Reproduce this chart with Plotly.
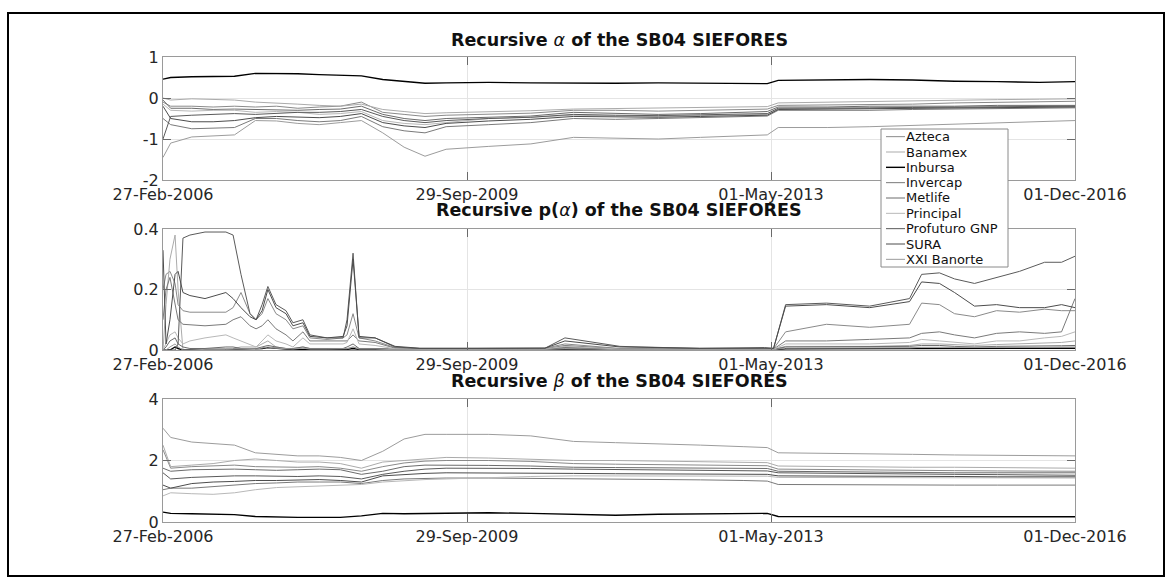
import plotly.graph_objects as go

# ---------------- data ----------------
FUNDS = ["Azteca", "Banamex", "Inbursa", "Invercap", "Metlife", "Principal",
         "Profuturo GNP", "SURA", "XXI Banorte"]
COLORS = ["#8a8a8a", "#ababab", "#000000", "#7a7a7a", "#6c6c6c", "#b8b8b8",
          "#5a5a5a", "#4c4c4c", "#9c9c9c"]

X_TICKVALS = ["2006-02-27", "2009-09-29", "2013-05-01", "2016-12-01"]
X_TICKTEXT = ["27-Feb-2006", "29-Sep-2009", "01-May-2013", "01-Dec-2016"]

DATES_AB = ["2006-02-27", "2006-04-01", "2006-07-01", "2006-10-01", "2007-01-01",
            "2007-04-01", "2007-07-01", "2007-10-01", "2008-01-01", "2008-04-01",
            "2008-07-01", "2008-10-01", "2009-01-01", "2009-04-01", "2009-07-01",
            "2010-01-01", "2010-07-01", "2011-01-01", "2011-07-01", "2012-01-01",
            "2012-07-01", "2013-01-01", "2013-04-15", "2013-06-01", "2014-01-01",
            "2014-07-01", "2015-01-01", "2015-07-01", "2016-01-01", "2016-07-01",
            "2016-12-01"]

alpha_azteca = [-0.10, -0.20, -0.20, -0.22, -0.20, -0.22, -0.20, -0.25, -0.22, -0.20,
                -0.10, -0.35, -0.40, -0.45, -0.42, -0.40, -0.37, -0.30, -0.30, -0.32,
                -0.30, -0.28, -0.27, -0.18, -0.17, -0.16, -0.15, -0.12, -0.10, -0.09, -0.08]
alpha_banamex = [0.00, -0.05, -0.02, -0.03, -0.05, -0.10, -0.12, -0.15, -0.18, -0.20,
                 -0.15, -0.28, -0.33, -0.38, -0.36, -0.34, -0.31, -0.27, -0.26, -0.25,
                 -0.23, -0.22, -0.21, -0.12, -0.10, -0.08, -0.07, -0.05, -0.04, -0.03, -0.02]
alpha_inbursa = [0.46, 0.50, 0.52, 0.52, 0.53, 0.60, 0.60, 0.59, 0.57, 0.56,
                 0.54, 0.45, 0.40, 0.36, 0.37, 0.38, 0.37, 0.36, 0.36, 0.37,
                 0.36, 0.36, 0.35, 0.43, 0.45, 0.45, 0.44, 0.41, 0.40, 0.38, 0.40]
alpha_invercap = [-0.50, -0.65, -0.75, -0.74, -0.72, -0.50, -0.50, -0.55, -0.58, -0.55,
                  -0.45, -0.70, -0.80, -0.85, -0.70, -0.65, -0.60, -0.50, -0.52, -0.50,
                  -0.48, -0.45, -0.44, -0.30, -0.30, -0.30, -0.28, -0.27, -0.26, -0.25, -0.24]
alpha_metlife = [-0.05, -0.25, -0.25, -0.28, -0.27, -0.28, -0.30, -0.30, -0.28, -0.27,
                 -0.20, -0.40, -0.50, -0.55, -0.50, -0.47, -0.44, -0.35, -0.37, -0.40,
                 -0.38, -0.35, -0.33, -0.22, -0.22, -0.20, -0.20, -0.20, -0.18, -0.18, -0.18]
alpha_principal = [-0.15, -0.30, -0.32, -0.30, -0.30, -0.35, -0.33, -0.35, -0.40, -0.38,
                   -0.33, -0.55, -0.62, -0.65, -0.60, -0.50, -0.47, -0.42, -0.44, -0.45,
                   -0.43, -0.41, -0.40, -0.27, -0.26, -0.25, -0.24, -0.23, -0.22, -0.21, -0.21]
alpha_profuturo = [-1.00, -0.45, -0.42, -0.40, -0.38, -0.40, -0.37, -0.35, -0.35, -0.33,
                   -0.28, -0.45, -0.55, -0.60, -0.55, -0.50, -0.47, -0.40, -0.42, -0.43,
                   -0.41, -0.40, -0.38, -0.25, -0.25, -0.24, -0.23, -0.22, -0.22, -0.21, -0.20]
alpha_sura = [-0.20, -0.50, -0.58, -0.58, -0.55, -0.48, -0.45, -0.47, -0.48, -0.45,
              -0.38, -0.60, -0.68, -0.72, -0.62, -0.56, -0.52, -0.45, -0.46, -0.47,
              -0.45, -0.43, -0.42, -0.28, -0.27, -0.26, -0.25, -0.24, -0.23, -0.22, -0.22]
alpha_xxi = [-1.45, -1.10, -0.95, -0.93, -0.90, -0.55, -0.56, -0.62, -0.65, -0.60,
             -0.55, -0.85, -1.20, -1.42, -1.25, -1.18, -1.12, -0.96, -0.98, -1.00,
             -0.96, -0.93, -0.90, -0.72, -0.72, -0.70, -0.67, -0.63, -0.60, -0.57, -0.55]

beta_azteca = [2.35, 1.75, 1.80, 1.82, 1.85, 1.80, 1.78, 1.78, 1.80, 1.75,
               1.65, 1.80, 1.92, 1.98, 2.00, 2.00, 1.97, 1.90, 1.88, 1.87,
               1.86, 1.85, 1.83, 1.72, 1.70, 1.70, 1.68, 1.67, 1.66, 1.66, 1.65]
beta_banamex = [2.50, 1.80, 1.85, 1.90, 2.00, 2.05, 2.00, 1.95, 1.95, 1.90,
                1.75, 1.95, 2.00, 2.05, 2.10, 2.08, 2.05, 2.00, 2.00, 1.98,
                1.97, 1.95, 1.93, 1.82, 1.80, 1.80, 1.78, 1.78, 1.77, 1.76, 1.75]
beta_inbursa = [0.32, 0.28, 0.27, 0.26, 0.24, 0.18, 0.16, 0.15, 0.15, 0.15,
                0.20, 0.28, 0.27, 0.28, 0.30, 0.30, 0.28, 0.25, 0.22, 0.25,
                0.27, 0.28, 0.28, 0.18, 0.17, 0.17, 0.17, 0.17, 0.17, 0.17, 0.17]
beta_invercap = [1.05, 1.10, 1.10, 1.15, 1.20, 1.25, 1.27, 1.30, 1.30, 1.30,
                 1.25, 1.35, 1.40, 1.42, 1.43, 1.43, 1.42, 1.42, 1.40, 1.38,
                 1.37, 1.35, 1.33, 1.22, 1.21, 1.20, 1.20, 1.20, 1.20, 1.20, 1.20]
beta_metlife = [1.75, 1.65, 1.70, 1.72, 1.72, 1.70, 1.68, 1.70, 1.72, 1.70,
                1.55, 1.65, 1.80, 1.85, 1.85, 1.84, 1.82, 1.78, 1.77, 1.76,
                1.76, 1.75, 1.74, 1.65, 1.63, 1.62, 1.60, 1.60, 1.60, 1.60, 1.60]
beta_principal = [0.85, 0.95, 0.92, 0.90, 0.95, 1.05, 1.12, 1.15, 1.18, 1.20,
                  1.22, 1.30, 1.35, 1.38, 1.40, 1.45, 1.48, 1.50, 1.50, 1.50,
                  1.50, 1.50, 1.49, 1.45, 1.45, 1.45, 1.44, 1.44, 1.43, 1.43, 1.43]
beta_profuturo = [1.60, 1.40, 1.45, 1.48, 1.50, 1.50, 1.48, 1.48, 1.50, 1.48,
                  1.40, 1.55, 1.65, 1.72, 1.75, 1.75, 1.74, 1.72, 1.71, 1.70,
                  1.70, 1.68, 1.66, 1.60, 1.58, 1.57, 1.56, 1.55, 1.54, 1.53, 1.52]
beta_sura = [1.20, 1.10, 1.25, 1.30, 1.32, 1.35, 1.35, 1.37, 1.38, 1.35,
             1.30, 1.50, 1.55, 1.58, 1.60, 1.60, 1.60, 1.58, 1.57, 1.57,
             1.56, 1.55, 1.55, 1.50, 1.50, 1.49, 1.48, 1.48, 1.47, 1.47, 1.47]
beta_xxi = [3.05, 2.75, 2.60, 2.55, 2.50, 2.25, 2.20, 2.15, 2.15, 2.10,
            2.00, 2.30, 2.70, 2.85, 2.85, 2.85, 2.80, 2.62, 2.58, 2.55,
            2.50, 2.45, 2.42, 2.25, 2.24, 2.23, 2.20, 2.18, 2.17, 2.16, 2.15]

DATES_P = ["2006-02-27", "2006-03-12", "2006-03-29", "2006-04-20", "2006-05-03",
           "2006-05-24", "2006-06-23", "2006-08-27", "2006-11-25", "2006-12-26",
           "2007-01-29", "2007-03-09", "2007-04-04", "2007-04-30", "2007-05-25",
           "2007-06-29", "2007-08-11", "2007-09-10", "2007-10-23", "2007-11-22",
           "2008-02-04", "2008-04-13", "2008-04-30", "2008-05-26", "2008-06-21",
           "2008-08-29", "2008-11-23", "2009-03-10", "2009-09-29", "2010-08-31",
           "2010-11-25", "2011-07-20", "2012-06-28", "2013-04-03", "2013-05-12",
           "2013-07-03", "2013-12-26", "2014-06-30", "2014-12-19", "2015-02-09",
           "2015-04-27", "2015-07-01", "2015-09-25", "2015-12-29", "2016-04-06",
           "2016-07-23", "2016-10-04", "2016-12-01"]

p_azteca = [0.20, 0.25, 0.26, 0.22, 0.15, 0.13, 0.125, 0.125, 0.125, 0.14,
            0.19, 0.12, 0.10, 0.12, 0.17, 0.12, 0.10, 0.07, 0.08, 0.04,
            0.035, 0.04, 0.05, 0.12, 0.04, 0.03, 0.008, 0.004, 0.004, 0.006,
            0.02, 0.005, 0.004, 0.005, 0.004, 0.06, 0.085, 0.075, 0.085, 0.155,
            0.15, 0.12, 0.11, 0.13, 0.125, 0.135, 0.13, 0.13]
p_banamex = [0.00, 0.15, 0.30, 0.38, 0.20, 0.00, 0.00, 0.005, 0.005, 0.005,
             0.01, 0.01, 0.01, 0.02, 0.03, 0.01, 0.005, 0.005, 0.01, 0.005,
             0.005, 0.005, 0.005, 0.01, 0.005, 0.005, 0.002, 0.002, 0.002, 0.003,
             0.01, 0.003, 0.002, 0.003, 0.002, 0.012, 0.012, 0.012, 0.015, 0.02,
             0.02, 0.018, 0.015, 0.018, 0.02, 0.022, 0.025, 0.03]
p_inbursa = [0.00, 0.00, 0.00, 0.01, 0.005, 0.00, 0.00, 0.00, 0.002, 0.002,
             0.003, 0.003, 0.003, 0.005, 0.008, 0.005, 0.003, 0.002, 0.003, 0.002,
             0.002, 0.002, 0.002, 0.005, 0.002, 0.002, 0.001, 0.001, 0.001, 0.002,
             0.004, 0.001, 0.001, 0.001, 0.001, 0.004, 0.004, 0.004, 0.005, 0.006,
             0.006, 0.005, 0.004, 0.005, 0.005, 0.005, 0.006, 0.006]
p_invercap = [0.10, 0.20, 0.24, 0.15, 0.10, 0.085, 0.083, 0.08, 0.085, 0.10,
              0.11, 0.08, 0.07, 0.08, 0.10, 0.07, 0.05, 0.03, 0.06, 0.03,
              0.03, 0.03, 0.03, 0.05, 0.03, 0.025, 0.006, 0.003, 0.003, 0.004,
              0.015, 0.004, 0.003, 0.004, 0.003, 0.03, 0.03, 0.035, 0.04, 0.055,
              0.06, 0.05, 0.04, 0.055, 0.06, 0.055, 0.06, 0.17]
p_metlife = [0.00, 0.01, 0.03, 0.04, 0.02, 0.01, 0.005, 0.005, 0.01, 0.01,
             0.005, 0.005, 0.005, 0.01, 0.015, 0.01, 0.005, 0.005, 0.01, 0.005,
             0.005, 0.005, 0.01, 0.02, 0.005, 0.005, 0.002, 0.002, 0.002, 0.003,
             0.008, 0.003, 0.002, 0.002, 0.002, 0.01, 0.01, 0.01, 0.012, 0.015,
             0.015, 0.012, 0.01, 0.012, 0.012, 0.012, 0.014, 0.015]
p_principal = [0.00, 0.02, 0.05, 0.06, 0.04, 0.02, 0.03, 0.04, 0.05, 0.04,
               0.03, 0.02, 0.01, 0.03, 0.05, 0.03, 0.02, 0.01, 0.04, 0.02,
               0.02, 0.02, 0.025, 0.07, 0.02, 0.015, 0.004, 0.002, 0.002, 0.003,
               0.012, 0.003, 0.002, 0.002, 0.002, 0.02, 0.02, 0.02, 0.025, 0.035,
               0.03, 0.025, 0.02, 0.03, 0.03, 0.04, 0.045, 0.06]
p_profuturo = [0.00, 0.00, 0.00, 0.00, 0.02, 0.37, 0.38, 0.39, 0.39, 0.38,
               0.25, 0.12, 0.10, 0.15, 0.21, 0.15, 0.13, 0.09, 0.10, 0.05,
               0.04, 0.04, 0.10, 0.32, 0.04, 0.04, 0.01, 0.005, 0.005, 0.006,
               0.04, 0.012, 0.005, 0.008, 0.005, 0.15, 0.155, 0.145, 0.17, 0.25,
               0.255, 0.235, 0.22, 0.24, 0.26, 0.29, 0.29, 0.31]
p_sura = [0.33, 0.02, 0.10, 0.25, 0.26, 0.19, 0.18, 0.17, 0.19, 0.17,
          0.14, 0.11, 0.10, 0.13, 0.20, 0.14, 0.12, 0.08, 0.09, 0.045,
          0.04, 0.045, 0.08, 0.30, 0.045, 0.04, 0.012, 0.006, 0.006, 0.006,
          0.03, 0.01, 0.006, 0.008, 0.006, 0.145, 0.15, 0.14, 0.16, 0.225,
          0.22, 0.19, 0.145, 0.15, 0.14, 0.14, 0.15, 0.14]
p_xxi = [0.00, 0.00, 0.01, 0.02, 0.01, 0.00, 0.00, 0.002, 0.002, 0.003,
         0.005, 0.004, 0.003, 0.006, 0.01, 0.006, 0.004, 0.003, 0.006, 0.003,
         0.003, 0.003, 0.004, 0.01, 0.003, 0.003, 0.001, 0.001, 0.001, 0.002,
         0.005, 0.001, 0.001, 0.001, 0.001, 0.006, 0.006, 0.006, 0.007, 0.009,
         0.009, 0.008, 0.007, 0.008, 0.008, 0.009, 0.01, 0.01]

ALPHA = [alpha_azteca, alpha_banamex, alpha_inbursa, alpha_invercap, alpha_metlife,
         alpha_principal, alpha_profuturo, alpha_sura, alpha_xxi]
PALPHA = [p_azteca, p_banamex, p_inbursa, p_invercap, p_metlife,
          p_principal, p_profuturo, p_sura, p_xxi]
BETA = [beta_azteca, beta_banamex, beta_inbursa, beta_invercap, beta_metlife,
        beta_principal, beta_profuturo, beta_sura, beta_xxi]

TITLES = ["<b>Recursive </b><i>\u03b1</i><b> of the SB04 SIEFORES</b>",
          "<b>Recursive p(</b><i>\u03b1</i><b>) of the SB04 SIEFORES</b>",
          "<b>Recursive </b><i>\u03b2</i><b> of the SB04 SIEFORES</b>"]
Y_RANGES = [[-2, 1], [0, 0.4], [0, 4]]
Y_TICKVALS = [[-2, -1, 0, 1], [0, 0.2, 0.4], [0, 2, 4]]
Y_TICKTEXT = [["-2", "-1", "0", "1"], ["0", "0.2", "0.4"], ["0", "2", "4"]]

# ---------------- layout geometry (pixels) ----------------
W, H = 1172, 578
PLOT_X = (163, 1075)
PANELS_Y = [(57, 180), (229, 350), (399, 522)]
TITLE_Y = [40, 210, 381]
FONT = "DejaVu Sans"


def px_x(x):
    return x / W


def px_y(y):
    return 1 - y / H


fig = go.Figure()
series_sets = [(DATES_AB, ALPHA), (DATES_P, PALPHA), (DATES_AB, BETA)]
for k, (dates, sets) in enumerate(series_sets):
    suffix = "" if k == 0 else str(k + 1)
    for name, color, vals in zip(FUNDS, COLORS, sets):
        fig.add_trace(go.Scatter(
            x=dates, y=vals, mode="lines", name=name,
            line=dict(color=color, width=1.4 if name == "Inbursa" else 1.0),
            xaxis="x" + suffix, yaxis="y" + suffix, showlegend=False,
        ))

layout = dict(
    template="none",
    width=W, height=H, margin=dict(l=0, r=0, t=0, b=0, pad=0, autoexpand=False),
    paper_bgcolor="white", plot_bgcolor="white",
    font=dict(family=FONT, color="#262626"),
    showlegend=False,
)
for k in range(3):
    suffix = "" if k == 0 else str(k + 1)
    y0, y1 = PANELS_Y[k]
    layout["xaxis" + suffix] = dict(
        domain=[px_x(PLOT_X[0]), px_x(PLOT_X[1])], anchor="y" + suffix,
        type="date", range=["2006-02-27", "2016-12-01"],
        tickmode="array", tickvals=X_TICKVALS, ticktext=X_TICKTEXT,
        showgrid=True, gridcolor="#e4e4e4", gridwidth=1,
        showline=True, linecolor="#9a9a9a", linewidth=1, mirror="ticks",
        ticks="inside", ticklen=8, tickcolor="#6a6a6a", tickwidth=1,
        tickfont=dict(family=FONT, size=16, color="#262626"),
        ticklabelstandoff=0, zeroline=False, fixedrange=True, automargin=False,
    )
    layout["yaxis" + suffix] = dict(
        domain=[px_y(y1), px_y(y0)], anchor="x" + suffix,
        range=Y_RANGES[k], tickmode="array", tickvals=Y_TICKVALS[k],
        ticktext=Y_TICKTEXT[k],
        showgrid=True, gridcolor="#e4e4e4", gridwidth=1,
        showline=True, linecolor="#9a9a9a", linewidth=1, mirror="ticks",
        ticks="inside", ticklen=8, tickcolor="#6a6a6a", tickwidth=1,
        tickfont=dict(family=FONT, size=16, color="#262626"),
        ticklabelstandoff=0, zeroline=False, fixedrange=True, automargin=False,
    )
fig.update_layout(**layout)

annotations = []
for k in range(3):
    annotations.append(dict(
        text=TITLES[k], x=px_x((PLOT_X[0] + PLOT_X[1]) / 2), y=px_y(TITLE_Y[k]),
        xref="paper", yref="paper", xanchor="center", yanchor="middle",
        showarrow=False, font=dict(family=FONT, size=17.5, color="#111111"),
    ))

shapes = []
# outer frame
shapes.append(dict(type="rect", xref="paper", yref="paper",
                   x0=px_x(8), x1=px_x(1164), y0=px_y(576), y1=px_y(13),
                   line=dict(color="black", width=2), fillcolor="rgba(0,0,0,0)",
                   layer="above"))
# legend box
LEG_X0, LEG_X1, LEG_Y0, LEG_Y1 = 881, 1008, 129, 267
shapes.append(dict(type="rect", xref="paper", yref="paper",
                   x0=px_x(LEG_X0), x1=px_x(LEG_X1), y0=px_y(LEG_Y1), y1=px_y(LEG_Y0),
                   line=dict(color="#8a8a8a", width=1), fillcolor="white",
                   layer="above"))
row_h = (LEG_Y1 - LEG_Y0) / len(FUNDS)
for i, (name, color) in enumerate(zip(FUNDS, COLORS)):
    cy = LEG_Y0 + row_h * (i + 0.5)
    shapes.append(dict(type="line", xref="paper", yref="paper",
                       x0=px_x(886), x1=px_x(905), y0=px_y(cy), y1=px_y(cy),
                       line=dict(color=color, width=1.4 if name == "Inbursa" else 1.0),
                       layer="above"))
    annotations.append(dict(
        text=name, x=px_x(904), y=px_y(cy), xref="paper", yref="paper",
        xanchor="left", yanchor="middle", showarrow=False,
        font=dict(family=FONT, size=13, color="#111111"),
    ))

fig.update_layout(annotations=annotations, shapes=shapes)
fig.write_html("out.html",
               config={"displayModeBar": False, "staticPlot": True},
               post_script="document.body.style.margin='0px';"
                           "document.body.style.overflow='hidden';")
